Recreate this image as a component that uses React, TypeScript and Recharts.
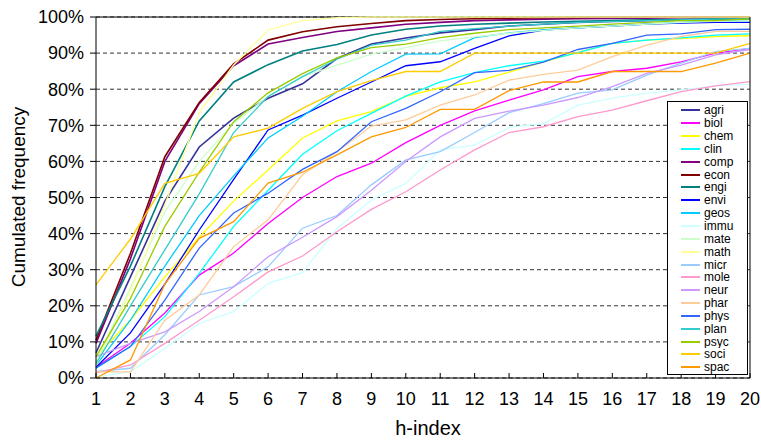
import React from 'react'
import { LineChart, Line, XAxis, YAxis, CartesianGrid, Legend, ReferenceLine } from 'recharts'

const FONT = '"Liberation Sans", Arial, Helvetica, sans-serif'

// h-index 1..20, cumulated frequency in %
const hIndex = [1, 2, 3, 4, 5, 6, 7, 8, 9, 10, 11, 12, 13, 14, 15, 16, 17, 18, 19, 20]
const yTicks = [0, 10, 20, 30, 40, 50, 60, 70, 80, 90, 100]

const agri = [7, 28, 49, 64, 72, 77.5, 81.5, 88.5, 92.5, 94.2, 95.6, 96.5, 97.5, 98, 98.5, 98.8, 99, 99.2, 99.3, 99.5]
const biol = [3, 9.6, 18, 28.5, 34.6, 42.8, 50, 55.8, 59.5, 65.2, 70, 74, 77, 79.8, 83.5, 84.9, 85.8, 87.6, 90, 91.3]
const chem = [5.9, 16, 28, 39, 49, 57.6, 66.5, 71.2, 73.8, 78, 80.4, 82, 84.7, 87.6, 90.2, 92.7, 93.6, 94, 94.6, 94.8]
const clin = [2.7, 8.7, 17, 29, 42, 52, 62, 68.5, 73.3, 78.1, 82, 84.6, 86.5, 87.8, 90.1, 92.7, 93.6, 94.2, 95, 95.3]
const comp = [9.6, 33, 60, 76, 86.5, 92.5, 94.3, 96, 97, 98, 98.5, 99, 99.2, 99.4, 99.5, 99.6, 99.7, 99.8, 99.8, 99.8]
const econ = [10.5, 34.5, 61.3, 76.3, 87, 93.6, 95.9, 97.3, 98.2, 99, 99.3, 99.5, 99.7, 99.8, 99.9, 100, 100, 100, 100, 100]
const engi = [11.6, 31, 53, 71.2, 82, 86.8, 90.6, 92.4, 95, 96.6, 97.5, 98, 98.3, 98.6, 98.8, 99, 99.2, 99.3, 99.4, 99.5]
const envi = [3, 12.5, 26, 41, 55, 68.7, 72.8, 77.5, 82, 86.5, 87.6, 91.3, 94.8, 96.4, 97, 97.5, 98, 98.3, 98.5, 98.5]
const geos = [3.5, 16, 31, 45, 56, 66.5, 72.5, 79.3, 84.9, 89.7, 89.8, 94.3, 95.6, 96.4, 97, 97.5, 98, 98.5, 99, 99]
const immu = [0.3, 1.7, 8.2, 15.1, 18.4, 26.2, 29.2, 41.4, 49.3, 53.9, 63.2, 64.5, 69.4, 70.5, 75.6, 77.5, 78.9, 79.8, 80.9, 81.4]
const mate = [4.5, 25, 46, 60, 70.6, 78, 83.5, 86.7, 89.7, 91.5, 93.4, 94.5, 95.5, 96.3, 97, 97.5, 98, 98.5, 98.8, 99]
const math = [3.5, 24, 48, 73.5, 86.7, 96.4, 99, 99.8, 100, 100, 100, 100, 100, 100, 100, 100, 100, 100, 100, 100]
const micr = [1.8, 2.7, 12, 23, 25.3, 30.8, 41.5, 45, 53.5, 60.4, 62.7, 68, 73.5, 76, 78.9, 79.8, 83.9, 87.2, 90.4, 91.3]
const mole = [1.4, 3.6, 9.6, 16, 22.5, 29.4, 33.8, 40.5, 46.7, 51.6, 57.6, 63.2, 68, 69.6, 72.4, 74.2, 76.8, 79.3, 80.9, 82.1]
const neur = [5.9, 9.6, 12.8, 18.4, 25.3, 33.6, 39, 44.7, 52, 60, 66.8, 71.9, 73.9, 75.6, 77.7, 80.7, 84.4, 86.7, 89.5, 91]
const phar = [1.7, 1.7, 16, 23, 36.4, 43.8, 56.3, 62.7, 69.8, 71.5, 75.6, 78.4, 82.5, 84.1, 85.3, 89, 92.2, 94.6, 96, 96]
const phys = [2.8, 8.7, 21.6, 36, 45.7, 51.2, 57.8, 62.7, 71, 74.7, 79.3, 84.6, 85.2, 87.5, 91, 92.7, 95, 95.3, 96.5, 96.6]
const plan = [4, 20, 35.5, 51, 68, 78, 83.5, 88.3, 92.2, 93.6, 96, 96.8, 97.5, 98, 98.5, 98.8, 99, 99.2, 99.4, 99.5]
const psyc = [5.9, 22, 42, 57, 71, 79, 84.3, 88.7, 91.5, 92.5, 94.3, 95.5, 96.5, 97, 97.5, 98, 98.5, 99, 99, 99.5]
const soci = [25.8, 38.5, 53.9, 56.7, 66.8, 69.2, 74.7, 79.3, 82.4, 84.9, 84.9, 90, 90, 90, 90, 90, 90, 90, 90, 92.7]
const spac = [0, 5, 26, 38.7, 43.3, 54, 57, 61.8, 66.8, 69.4, 74.4, 74.4, 79.6, 82, 82, 84.9, 84.9, 84.9, 87.2, 90]

const fields = ['agri', 'biol', 'chem', 'clin', 'comp', 'econ', 'engi', 'envi', 'geos', 'immu',
  'mate', 'math', 'micr', 'mole', 'neur', 'phar', 'phys', 'plan', 'psyc', 'soci', 'spac']
const colors = ['#333399', '#ff00ff', '#ffff00', '#00ffff', '#800080', '#800000', '#008080', '#0000ff',
  '#00ccff', '#ccffff', '#ccffcc', '#ffff99', '#99ccff', '#ff99cc', '#cc99ff', '#ffcc99', '#3366ff',
  '#33cccc', '#99cc00', '#ffcc00', '#ff9900']
const thick = ['agri', 'comp', 'econ', 'engi']

const values: Record<string, number[]> = {
  agri, biol, chem, clin, comp, econ, engi, envi, geos, immu,
  mate, math, micr, mole, neur, phar, phys, plan, psyc, soci, spac,
}

const data = hIndex.map((h, i) => {
  const row: Record<string, number> = { h }
  fields.forEach((f) => { row[f] = values[f][i] })
  return row
})

function LegendBox() {
  return (
    <div style={{
      width: 81, height: 274, boxSizing: 'border-box', border: '1px solid #000',
      background: '#fff', paddingTop: 2, fontFamily: FONT, fontSize: 12, color: '#000',
    }}>
      {fields.map((f, i) => (
        <div key={f} style={{ display: 'flex', alignItems: 'center', height: 12.85, lineHeight: '12.85px', overflow: 'hidden' }}>
          <span style={{ display: 'inline-block', width: 19, borderTop: `2px solid ${colors[i]}`, marginLeft: 13, marginRight: 4 }} />
          <span style={{ lineHeight: '12px' }}>{f}</span>
        </div>
      ))}
    </div>
  )
}

export default function App() {
  return (
    <div style={{ position: 'absolute', left: 0, top: 0, width: 761, height: 440, background: '#fff', fontFamily: FONT }}>
      <LineChart width={761} height={440} data={data} margin={{ top: 17, right: 0, bottom: 0, left: 0 }}>
        <CartesianGrid horizontal vertical={false} stroke="#333" strokeDasharray="4 3" />
        <XAxis
          dataKey="h" type="number" domain={[1, 20]} ticks={hIndex} height={62}
          stroke="#000" tickSize={-5} tickMargin={19} interval={0}
          tick={{ fill: '#000', fontSize: 18, fontFamily: FONT }}
          label={() => (
            <text x={428} y={435} textAnchor="middle" fontSize={20} fontFamily={FONT} fill="#000">h-index</text>
          )}
        />
        <YAxis
          type="number" domain={[0, 100]} ticks={yTicks} width={96} stroke="#000"
          tickSize={6} tickMargin={6} tickFormatter={(v) => `${v}%`} interval={0}
          tick={{ fill: '#000', fontSize: 18, fontFamily: FONT }}
          label={() => (
            <text x={25} y={197} transform="rotate(-90, 25, 197)" textAnchor="middle" fontSize={19} fontFamily={FONT} fill="#000">
              Cumulated frequency
            </text>
          )}
        />
        <YAxis
          yAxisId="r" orientation="right" type="number" domain={[0, 100]} ticks={yTicks}
          width={11} stroke="#000" tickSize={4} tick={false}
        />
        <ReferenceLine y={100} stroke="#000" strokeWidth={1} />
        {fields.map((f, i) => (
          <Line
            key={f} type="linear" dataKey={f} stroke={colors[i]} dot={false}
            strokeWidth={thick.includes(f) ? 1.6 : 1.3} isAnimationActive={false}
          />
        ))}
        <Legend
          layout="vertical" align="center" verticalAlign="middle"
          content={() => <LegendBox />}
          wrapperStyle={{ position: 'absolute', left: 667, top: 101, width: 81, height: 274 }}
        />
      </LineChart>
    </div>
  )
}
